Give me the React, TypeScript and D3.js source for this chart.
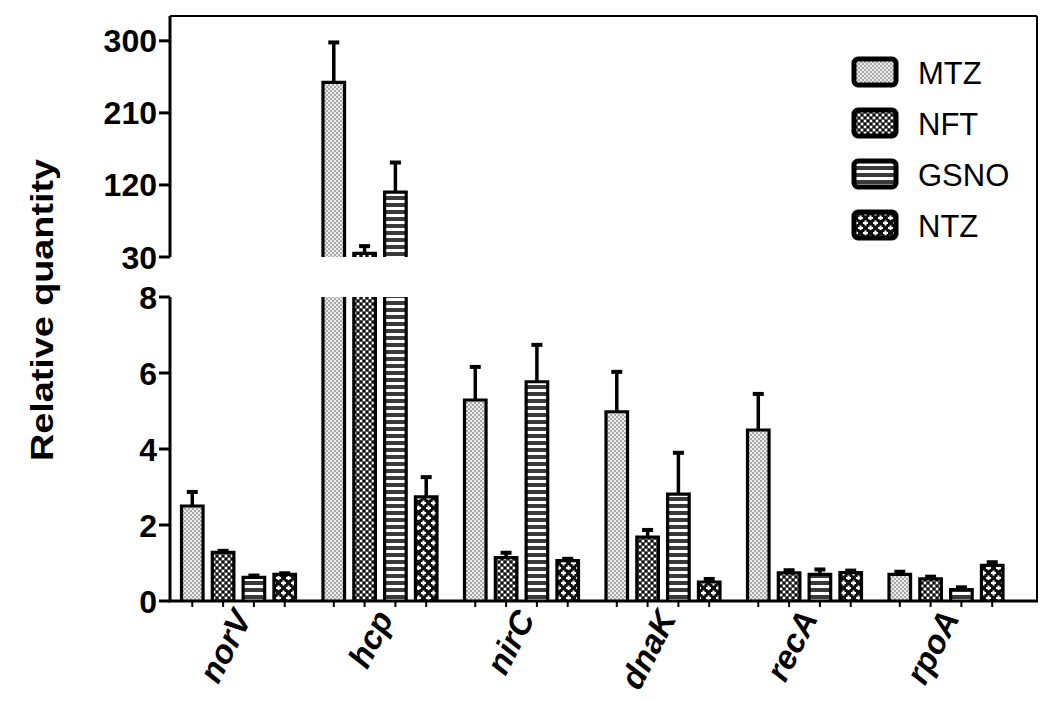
import React from 'react'
import * as d3 from 'd3'

// genes on the x axis and the four treatments
const genes = ['norV', 'hcp', 'nirC', 'dnaK', 'recA', 'rpoA']
const series = ['MTZ', 'NFT', 'GSNO', 'NTZ']

// mean relative quantity and SD
const mtz = [2.5, 248, 5.29, 4.98, 4.5, 0.7]
const mtzSd = [0.37, 50, 0.87, 1.05, 0.95, 0.07]
const nft = [1.28, 34.6, 1.14, 1.68, 0.74, 0.58]
const nftSd = [0.04, 9, 0.13, 0.19, 0.07, 0.06]
const gsno = [0.62, 111, 5.77, 2.81, 0.7, 0.3]
const gsnoSd = [0.05, 37, 0.97, 1.09, 0.13, 0.06]
const ntz = [0.7, 2.74, 1.06, 0.5, 0.75, 0.94]
const ntzSd = [0.03, 0.52, 0.05, 0.08, 0.05, 0.08]

const topTicks = [30, 120, 210, 300]
const bottomTicks = [0, 2, 4, 6, 8]

const values = [mtz, nft, gsno, ntz]
const sds = [mtzSd, nftSd, gsnoSd, ntzSd]
const fills = ['url(#pMTZ)', 'url(#pNFT)', 'url(#pGSNO)', 'url(#pNTZ)']

const W = 1050
const H = 701
const left = 170
const right = 1037
const top = 16
const bottom = 601
const breakLow = 8
const breakHigh = 30

const x0 = d3.scaleBand().domain(genes).range([167.75, 1016.75])
const x1 = d3.scaleBand().domain(series).range([-57, 57]).paddingInner(0.3).paddingOuter(0)
const yTop = d3.scaleLinear().domain([30, 331]).range([257, top])
const yBot = d3.scaleLinear().domain([0, 8]).range([bottom, 297])

const font = '"Liberation Sans", Arial, sans-serif'

function Patterns() {
  return (
    <defs>
      <pattern id="pMTZ" width="4" height="4" patternUnits="userSpaceOnUse">
        <rect width="4" height="4" fill="#ececec" />
        <rect width="2" height="2" fill="#a8a8a8" />
        <rect x="2" y="2" width="2" height="2" fill="#a8a8a8" />
      </pattern>
      <pattern id="pNFT" width="6" height="6" patternUnits="userSpaceOnUse">
        <rect width="6" height="6" fill="#5a5a5a" />
        <rect width="2" height="2" fill="#fff" />
        <rect x="3" y="3" width="2" height="2" fill="#fff" />
        <rect x="3" y="0" width="2" height="2" fill="#111" />
        <rect x="0" y="3" width="2" height="2" fill="#111" />
      </pattern>
      <pattern id="pGSNO" width="7" height="7" patternUnits="userSpaceOnUse">
        <rect width="7" height="7" fill="#fff" />
        <rect width="7" height="4" fill="#3a3a3a" />
      </pattern>
      <pattern id="pNTZ" width="10" height="10" patternUnits="userSpaceOnUse">
        <rect width="10" height="10" fill="#111" />
        <rect x="1" y="2" width="5" height="2" fill="#fff" />
        <rect x="2.5" y="0.5" width="2" height="5" fill="#fff" />
        <rect x="6" y="7" width="5" height="2" fill="#fff" />
        <rect x="7.5" y="5.5" width="2" height="5" fill="#fff" />
        <rect x="-4" y="7" width="5" height="2" fill="#fff" />
      </pattern>
    </defs>
  )
}

export default function App() {
  const bw = x1.bandwidth()
  const bars: React.ReactNode[] = []
  const errs: React.ReactNode[] = []
  const xTicks: React.ReactNode[] = []

  genes.forEach((g, gi) => {
    const cx0 = (x0(g) as number) + x0.bandwidth() / 2
    series.forEach((s, si) => {
      const v = values[si][gi]
      const sd = sds[si][gi]
      const x = cx0 + (x1(s) as number)
      const cx = x + bw / 2
      const key = `${g}-${s}`
      xTicks.push(<line key={key} x1={cx} x2={cx} y1={bottom} y2={bottom + 6} stroke="#000" strokeWidth={2} />)
      if (v <= breakLow) {
        const yv = yBot(v)
        bars.push(
          <g key={key}>
            <rect x={x} y={yv} width={bw} height={bottom - yv} fill={fills[si]} />
            <path d={`M${x},${bottom}V${yv}H${x + bw}V${bottom}`} fill="none" stroke="#000" strokeWidth={3.2} />
          </g>
        )
        errs.push(
          <g key={key}>
            <line x1={cx} x2={cx} y1={yv} y2={yBot(v + sd)} stroke="#000" strokeWidth={3.5} />
            <line x1={cx - 5.5} x2={cx + 5.5} y1={yBot(v + sd)} y2={yBot(v + sd)} stroke="#000" strokeWidth={4} />
          </g>
        )
      } else {
        // broken axis: bar is drawn in both panels
        const y8 = yBot(breakLow)
        const y30 = yTop(breakHigh)
        const yv = yTop(v)
        bars.push(
          <g key={key}>
            <rect x={x} y={y8} width={bw} height={bottom - y8} fill={fills[si]} />
            <path d={`M${x},${bottom}V${y8}M${x + bw},${y8}V${bottom}`} fill="none" stroke="#000" strokeWidth={3.2} />
            <rect x={x} y={yv} width={bw} height={y30 - yv} fill={fills[si]} />
            <path d={`M${x},${y30}V${yv}H${x + bw}V${y30}`} fill="none" stroke="#000" strokeWidth={3.2} />
          </g>
        )
        errs.push(
          <g key={key}>
            <line x1={cx} x2={cx} y1={yv} y2={yTop(v + sd)} stroke="#000" strokeWidth={3.5} />
            <line x1={cx - 5.5} x2={cx + 5.5} y1={yTop(v + sd)} y2={yTop(v + sd)} stroke="#000" strokeWidth={4} />
          </g>
        )
      }
    })
  })

  return (
    <svg width={W} height={H} style={{ position: 'absolute', left: 0, top: 0, background: '#fff' }} fontFamily={font}>
      <Patterns />
      <rect width={W} height={H} fill="#fff" />

      {bars}
      {errs}

      {/* frame */}
      <line x1={left} x2={right} y1={top} y2={top} stroke="#000" strokeWidth={2} />
      <line x1={right} x2={right} y1={top} y2={bottom} stroke="#000" strokeWidth={2} />
      <line x1={left - 2} x2={right + 1} y1={bottom} y2={bottom} stroke="#000" strokeWidth={3} />
      {xTicks}

      {/* left axis, upper segment */}
      <line x1={left} x2={left} y1={top} y2={yTop(breakHigh)} stroke="#000" strokeWidth={3} />
      {topTicks.map((t) => (
        <g key={`t${t}`} transform={`translate(0,${yTop(t)})`}>
          <line x1={left - 11} x2={left} stroke="#000" strokeWidth={3} />
          <text x={left - 13} dy="0.36em" textAnchor="end" fontSize={32} fontWeight="bold">{t}</text>
        </g>
      ))}

      {/* left axis, lower segment */}
      <line x1={left} x2={left} y1={yBot(breakLow)} y2={bottom} stroke="#000" strokeWidth={3} />
      {bottomTicks.map((t) => (
        <g key={`b${t}`} transform={`translate(0,${yBot(t)})`}>
          <line x1={left - 11} x2={left} stroke="#000" strokeWidth={3} />
          <text x={left - 13} dy="0.36em" textAnchor="end" fontSize={32} fontWeight="bold">{t}</text>
        </g>
      ))}

      <text
        transform="translate(53,310) rotate(-90)"
        textAnchor="middle"
        fontSize={31}
        fontWeight="bold"
        textLength={302}
        lengthAdjust="spacingAndGlyphs"
      >
        Relative quantity
      </text>

      {/* gene labels */}
      {genes.map((g) => {
        const cx = (x0(g) as number) + x0.bandwidth() / 2
        return (
          <text
            key={g}
            transform={`translate(${cx + 14},${618}) rotate(-63)`}
            textAnchor="end"
            fontSize={33}
            fontWeight="bold"
            fontStyle="italic"
          >
            {g}
          </text>
        )
      })}

      {/* legend */}
      {series.map((s, i) => (
        <g key={s} transform={`translate(852,${57 + i * 51})`}>
          <rect x={2} y={2} width={42} height={26} rx={4} fill={fills[i]} stroke="#000" strokeWidth={5} />
          <text x={66} y={27} fontSize={31}>{s}</text>
        </g>
      ))}
    </svg>
  )
}
